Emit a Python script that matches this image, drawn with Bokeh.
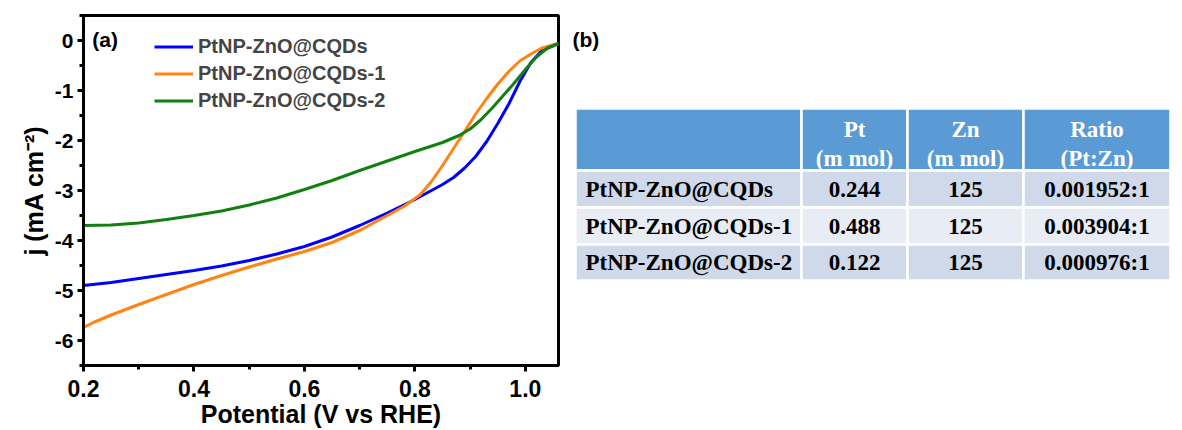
from bokeh.plotting import figure
from bokeh.layouts import row
from bokeh.models import Range1d, FixedTicker, Legend, LegendItem, Label, PrintfTickFormatter
from bokeh.core.properties import value
from bokeh.embed import file_html
from bokeh.resources import INLINE

# ---------------- data: panel (a) ----------------
v_blue = [0.20, 0.25, 0.30, 0.35, 0.40, 0.45, 0.50, 0.55, 0.60, 0.65, 0.70, 0.75, 0.80, 0.82,
          0.85, 0.87, 0.89, 0.91, 0.93, 0.95, 0.97, 0.99, 1.01, 1.03, 1.06]
j_blue = [-4.90, -4.84, -4.76, -4.68, -4.60, -4.51, -4.40, -4.27, -4.12, -3.93, -3.70, -3.45, -3.18, -3.06,
          -2.88, -2.74, -2.55, -2.32, -2.02, -1.66, -1.27, -0.82, -0.44, -0.20, -0.06]

v_orange = [0.20, 0.22, 0.25, 0.30, 0.35, 0.40, 0.45, 0.50, 0.55, 0.60, 0.65, 0.70, 0.75, 0.78,
            0.81, 0.83, 0.85, 0.87, 0.89, 0.91, 0.93, 0.95, 0.97, 0.99, 1.01, 1.03, 1.06]
j_orange = [-5.74, -5.63, -5.49, -5.28, -5.08, -4.88, -4.70, -4.53, -4.37, -4.22, -4.04, -3.80, -3.50, -3.32,
            -3.08, -2.82, -2.50, -2.16, -1.82, -1.47, -1.16, -0.87, -0.62, -0.41, -0.27, -0.15, -0.06]

v_green = [0.20, 0.25, 0.30, 0.35, 0.40, 0.45, 0.50, 0.55, 0.60, 0.65, 0.70, 0.75, 0.80, 0.85,
           0.88, 0.90, 0.92, 0.94, 0.96, 0.98, 1.00, 1.02, 1.04, 1.06]
j_green = [-3.70, -3.69, -3.65, -3.58, -3.50, -3.41, -3.29, -3.15, -2.98, -2.80, -2.60, -2.41, -2.22, -2.04,
           -1.90, -1.77, -1.58, -1.35, -1.10, -0.85, -0.58, -0.33, -0.15, -0.06]

series_names = ["PtNP-ZnO@CQDs", "PtNP-ZnO@CQDs-1", "PtNP-ZnO@CQDs-2"]
series_colors = ["#0000ff", "#ff8412", "#118011"]

x_ticks = [0.2, 0.4, 0.6, 0.8, 1.0]
x_minor = [0.3, 0.5, 0.7, 0.9]
y_ticks = [0, -1, -2, -3, -4, -5, -6]
y_minor = [0.5, -0.5, -1.5, -2.5, -3.5, -4.5, -5.5, -6.5]

# ---------------- data: panel (b) table ----------------
col_headers_top = ["", "Pt", "Zn", "Ratio"]
col_headers_bottom = ["", "(m mol)", "(m mol)", "(Pt:Zn)"]
sample_names = ["PtNP-ZnO@CQDs", "PtNP-ZnO@CQDs-1", "PtNP-ZnO@CQDs-2"]
pt_mmol = ["0.244", "0.488", "0.122"]
zn_mmol = ["125", "125", "125"]
ratio_pt_zn = ["0.001952:1", "0.003904:1", "0.000976:1"]

SANS = "Liberation Sans"
SERIF = "Liberation Serif"

BORDER_TOP, BORDER_BOTTOM, FIG_H = 15, 65, 430

# ---------------- panel (a) ----------------
p = figure(width=566, height=FIG_H, output_backend="svg", toolbar_location=None,
           x_range=Range1d(0.2, 1.06), y_range=Range1d(-6.5, 0.5),
           min_border_left=83, min_border_right=8, min_border_top=BORDER_TOP, min_border_bottom=BORDER_BOTTOM)
p.grid.visible = False
p.outline_line_color = "black"
p.outline_line_width = 3

renderers = []
for xs, ys, c in zip([v_blue, v_orange, v_green], [j_blue, j_orange, j_green], series_colors):
    r = p.line(xs, ys, line_color=c, line_width=3)
    renderers.append(r)

for ax in (p.xaxis[0], p.yaxis[0]):
    ax.axis_line_width = 3
    ax.axis_line_color = "black"
    ax.major_tick_line_width = 3
    ax.minor_tick_line_width = 3
    ax.major_tick_out = 6
    ax.major_tick_in = 0
    ax.minor_tick_out = 4
    ax.minor_tick_in = 0
    ax.major_label_text_font = SANS
    ax.major_label_text_font_style = "bold"
    ax.major_label_text_color = "black"
    ax.axis_label_text_font = SANS
    ax.axis_label_text_font_style = "bold"
    ax.axis_label_text_color = "black"
    ax.axis_label_text_font_size = "25px"

p.xaxis.ticker = FixedTicker(ticks=x_ticks, minor_ticks=x_minor)
p.xaxis.formatter = PrintfTickFormatter(format="%.1f")
p.xaxis.major_label_text_font_size = "23px"
p.xaxis.major_label_standoff = 8
p.xaxis.axis_label = "Potential (V vs RHE)"
p.xaxis.axis_label_standoff = 0

p.yaxis.ticker = FixedTicker(ticks=y_ticks, minor_ticks=y_minor)
p.yaxis.formatter = PrintfTickFormatter(format="%d")
p.yaxis.major_label_text_font_size = "21px"
p.yaxis.major_label_standoff = 4
p.yaxis.axis_label = "j (mA cm\u207b\u00b2)"
p.yaxis.axis_label_standoff = 4

legend = Legend(items=[LegendItem(label=n, renderers=[r]) for n, r in zip(series_names, renderers)],
                location=(71, 251))
legend.border_line_alpha = 0
legend.background_fill_alpha = 0
legend.padding = 0
legend.margin = 0
legend.spacing = 0
legend.label_height = 27
legend.glyph_height = 27
legend.glyph_width = 39
legend.label_standoff = 5
legend.label_text_font = SANS
legend.label_text_font_style = "bold"
legend.label_text_font_size = "20px"
p.add_layout(legend)

p.add_layout(Label(x=0.216, y=0.02, text="(a)", text_font=SANS, text_font_style="bold",
                   text_font_size="21px", text_baseline="middle", text_color="black"))

# ---------------- panel (b): table drawn in page-pixel coordinates ----------------
W2 = 612
t = figure(width=W2, height=FIG_H, output_backend="svg", toolbar_location=None,
           x_range=Range1d(0, W2), y_range=Range1d(FIG_H - BORDER_BOTTOM, BORDER_TOP),
           min_border_left=0, min_border_right=0, min_border_top=BORDER_TOP, min_border_bottom=BORDER_BOTTOM)
t.axis.visible = False
t.grid.visible = False
t.outline_line_color = None

col_edges = [9, 235, 341, 457, 604]
row_edges = [108, 170, 207, 244, 280]
band_colors = ["#5b9bd5", "#cfd9ea", "#e8ecf4", "#cfd9ea"]

ql, qr, qt, qb, qc = [], [], [], [], []
for ri in range(4):
    for ci in range(4):
        ql.append(col_edges[ci]); qr.append(col_edges[ci + 1])
        qt.append(row_edges[ri]); qb.append(row_edges[ri + 1])
        qc.append(band_colors[ri])
t.quad(left=ql, right=qr, top=qt, bottom=qb, fill_color=qc, line_color="white", line_width=2.5)

centers = [(col_edges[i] + col_edges[i + 1]) / 2 for i in range(4)]
t.text(x=centers[1:], y=[129] * 3, text=col_headers_top[1:], text_align="center", text_baseline="middle",
       text_font=value(SERIF), text_font_style="bold", text_font_size="23px", text_color="white")
t.text(x=centers[1:], y=[158] * 3, text=col_headers_bottom[1:], text_align="center", text_baseline="middle",
       text_font=value(SERIF), text_font_style="bold", text_font_size="23px", text_color="white")
row_centers = [(row_edges[i] + row_edges[i + 1]) / 2 for i in range(1, 4)]
t.text(x=[col_edges[0] + 10] * 3, y=row_centers, text=sample_names, text_align="left", text_baseline="middle",
       text_font=value(SERIF), text_font_style="bold", text_font_size="23px", text_color="black")
for ci, vals in zip([1, 2, 3], [pt_mmol, zn_mmol, ratio_pt_zn]):
    t.text(x=[centers[ci]] * 3, y=row_centers, text=vals, text_align="center", text_baseline="middle",
           text_font=value(SERIF), text_font_style="bold", text_font_size="23px", text_color="black")

t.text(x=[6], y=[39], text=["(b)"], text_align="left", text_baseline="middle",
       text_font=value(SANS), text_font_style="bold", text_font_size="21px", text_color="black")

layout = row(p, t)
open("out.html", "w").write(file_html(layout, INLINE))
